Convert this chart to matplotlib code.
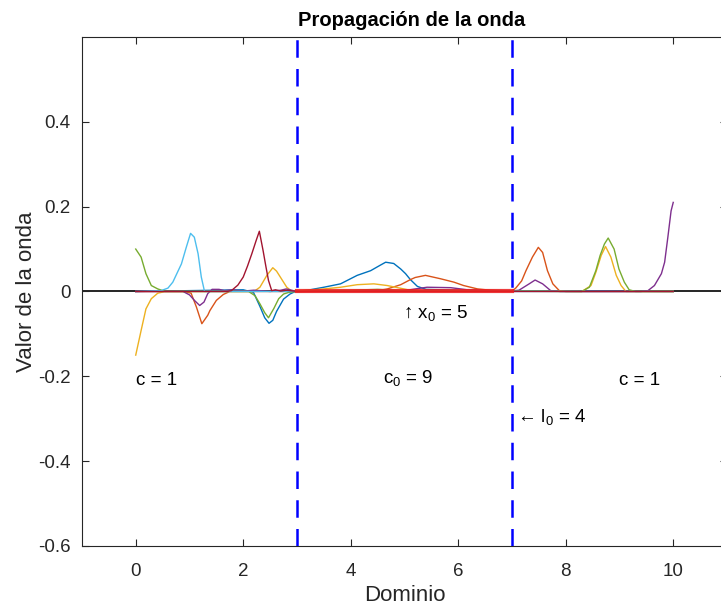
import numpy as np
import matplotlib
matplotlib.use("Agg")
import matplotlib.pyplot as plt

plt.rcParams['font.family'] = ['Liberation Sans', 'DejaVu Sans']
plt.rcParams['mathtext.fontset'] = 'custom'
plt.rcParams['mathtext.rm'] = 'Liberation Sans'
plt.rcParams['mathtext.it'] = 'Liberation Sans'

# wave snapshots over the domain [0, 10]
blue_x = [0, 2.0, 2.19, 2.31, 2.40, 2.48, 2.55, 2.62, 2.75, 2.87, 2.97, 3.2, 3.5, 3.81, 4.12, 4.37, 4.55, 4.65,
          4.8, 4.93, 5.02, 5.11, 5.24, 5.4, 6.0, 7.0, 10]
blue_y = [0, 0.004, -0.002, -0.035, -0.062, -0.075, -0.068, -0.047, -0.018, -0.006, 0, 0.003, 0.01, 0.018, 0.038,
          0.049, 0.062, 0.069, 0.066, 0.053, 0.042, 0.028, 0.012, 0.005, 0.003, 0.002, 0]

orange_x = [0, 0.9, 1.03, 1.13, 1.23, 1.34, 1.38, 1.5, 1.63, 1.75, 3.0, 4.5, 4.68, 4.93, 5.11, 5.2, 5.39, 5.67,
            5.92, 6.1, 6.36, 6.6, 7.0, 7.07, 7.18, 7.26, 7.38, 7.49, 7.57, 7.66, 7.76, 7.88, 8.0, 10]
orange_y = [0, 0, -0.004, -0.037, -0.076, -0.056, -0.045, -0.021, -0.007, 0, 0, 0.002, 0.006, 0.016, 0.028, 0.033,
            0.038, 0.030, 0.022, 0.014, 0.006, 0.003, 0.001, 0.008, 0.025, 0.049, 0.081, 0.104, 0.092, 0.049,
            0.018, 0.002, 0, 0]

yellow_x = [0, 0.1, 0.19, 0.29, 0.41, 0.55, 2.2, 2.31, 2.44, 2.55, 2.62, 2.69, 2.81, 2.9, 3.2, 3.5, 3.81, 4.12,
            4.43, 4.68, 4.99, 5.1, 5.5, 8.3, 8.47, 8.56, 8.66, 8.74, 8.84, 8.94, 9.03, 9.12, 10]
yellow_y = [-0.15, -0.092, -0.041, -0.017, -0.004, 0, 0, 0.01, 0.038, 0.056, 0.048, 0.034, 0.01, 0.001, 0.003,
            0.006, 0.01, 0.016, 0.018, 0.014, 0.006, 0.003, 0.001, 0, 0.014, 0.045, 0.085, 0.106, 0.081, 0.038,
            0.014, 0, 0]

purple_x = [0, 0.88, 1.0, 1.1, 1.19, 1.27, 1.34, 1.42, 1.55, 1.65, 1.8, 2.0, 2.2, 2.5, 2.7, 2.8, 3.0, 5.0, 5.2,
            5.42, 5.86, 6.17, 6.5, 7.0, 7.13, 7.32, 7.43, 7.57, 7.72, 7.9, 9.4, 9.53, 9.65, 9.78, 9.84, 9.9, 9.96,
            10.0]
purple_y = [0, 0, -0.008, -0.022, -0.033, -0.025, -0.005, 0.005, 0.005, 0.002, 0.004, 0.001, 0.003, 0, 0.003,
            0.006, 0, 0.002, 0.006, 0.01, 0.009, 0.004, 0.002, 0.001, 0.003, 0.018, 0.027, 0.018, 0.002, 0, 0,
            0.002, 0.014, 0.042, 0.069, 0.128, 0.19, 0.21]

green_x = [0, 0.1, 0.19, 0.29, 0.41, 0.55, 2.1, 2.22, 2.31, 2.40, 2.47, 2.57, 2.66, 2.75, 2.85, 3.0, 4.0, 4.5,
           5.0, 8.3, 8.44, 8.56, 8.64, 8.72, 8.79, 8.9, 8.99, 9.09, 9.18, 9.3, 10]
green_y = [0.10, 0.081, 0.042, 0.014, 0.006, 0, 0, -0.01, -0.029, -0.05, -0.062, -0.04, -0.017, -0.006, -0.002,
           0, 0.003, 0.005, 0.002, 0, 0.01, 0.049, 0.085, 0.112, 0.126, 0.10, 0.053, 0.022, 0.004, 0, 0]

cyan_x = [0, 0.47, 0.6, 0.69, 0.85, 0.94, 1.02, 1.09, 1.16, 1.22, 1.28, 10]
cyan_y = [0, 0.002, 0.008, 0.022, 0.065, 0.104, 0.137, 0.128, 0.089, 0.034, 0, 0]

darkred_x = [0, 1.7, 1.78, 1.9, 2.0, 2.08, 2.16, 2.24, 2.30, 2.37, 2.42, 2.47, 2.53, 2.6, 2.7, 2.8, 3.0, 10]
darkred_y = [0, 0, 0.002, 0.015, 0.034, 0.06, 0.089, 0.12, 0.142, 0.096, 0.06, 0.026, 0.002, 0.004, 0.001,
             0.003, 0, 0]

snapshots = [(blue_x, blue_y, '#0072BD'), (orange_x, orange_y, '#D95319'), (yellow_x, yellow_y, '#EDB120'),
             (purple_x, purple_y, '#7E2F8E'), (green_x, green_y, '#77AC30'), (cyan_x, cyan_y, '#4DBEEE'),
             (darkred_x, darkred_y, '#A2142F')]

# inhomogeneity: centre x0, length l0
x0, l0 = 5, 4
a, b = x0 - l0 / 2, x0 + l0 / 2

fig = plt.figure(figsize=(7.21, 6.07), dpi=100)
ax = fig.add_axes([0.1137, 0.1005, 0.8946, 0.8386])

ax.plot([-1, 11], [0, 0], color='k', lw=1.2, zorder=1)
for xs, ys, c in snapshots:
    ax.plot(xs, ys, color=c, lw=1.0, zorder=3)
ax.plot([a, b], [0, 0], color='#F01E1E', lw=3.0, alpha=0.85, zorder=3.5)
ax.plot([a, a], [-0.6, 0.6], '--', color='b', lw=1.8, dashes=(7, 4.5), zorder=4)
ax.plot([b, b], [-0.6, 0.6], '--', color='b', lw=1.8, dashes=(7, 4.5), zorder=4)

fs = 13.5
ax.text(0, -0.21, 'c = 1', fontsize=fs, va='center')
ax.text(4.6, -0.205, r'c$_{\mathregular{0}}$ = 9', fontsize=fs, va='center')
ax.text(9.0, -0.21, 'c = 1', fontsize=fs, va='center')
ax.text(4.98, -0.05, r'↑ x$_{\mathregular{0}}$ = 5', fontsize=fs, va='center')
ax.text(7.1, -0.295, r'← l$_{\mathregular{0}}$ = 4', fontsize=fs, va='center')

ax.set_xlim(-1, 11)
ax.set_ylim(-0.6, 0.6)
ax.set_xticks([0, 2, 4, 6, 8, 10])
ax.set_yticks([-0.6, -0.4, -0.2, 0, 0.2, 0.4])
ax.set_yticklabels(['-0.6', '-0.4', '-0.2', '0', '0.2', '0.4'])
ax.tick_params(direction='in', length=5, width=0.8, colors='#262626', labelsize=fs,
               top=True, right=True)
ax.tick_params(axis='x', pad=12)
ax.tick_params(axis='y', pad=8)
for s in ax.spines.values():
    s.set_color('#262626')
    s.set_linewidth(0.8)

ax.set_title('Propagación de la onda', fontsize=14.5, fontweight='bold', pad=8, x=0.511)
ax.set_xlabel('Dominio', fontsize=16, color='#262626', labelpad=4)
ax.set_ylabel('Valor de la onda', fontsize=16, color='#262626', labelpad=1)

fig.savefig('out.png', dpi=100)
